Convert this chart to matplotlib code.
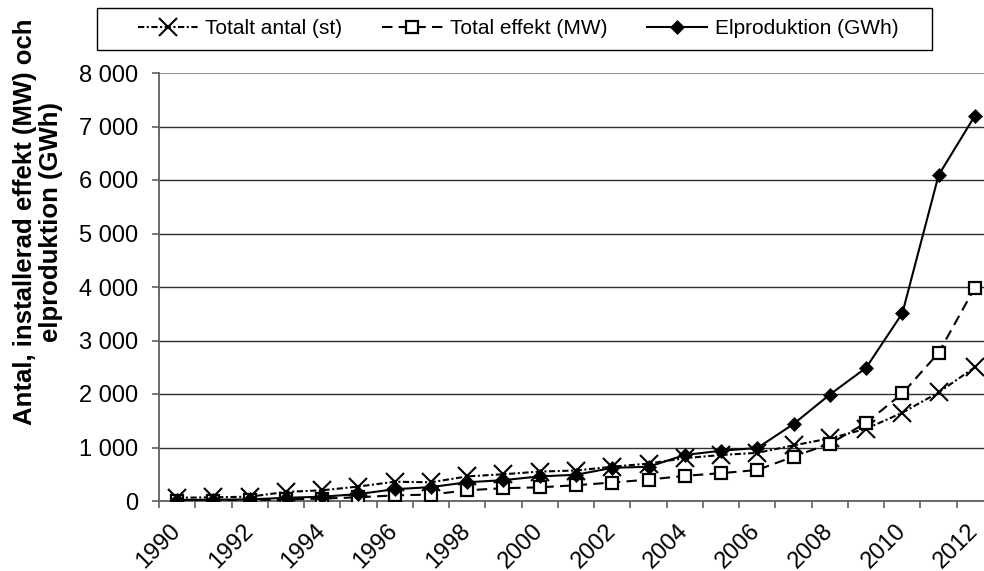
import matplotlib
matplotlib.use("Agg")
import matplotlib.pyplot as plt
from matplotlib.patches import Rectangle
import numpy as np
from matplotlib.ticker import FuncFormatter

plt.rcParams['font.family'] = ['Liberation Sans', 'DejaVu Sans']

years = list(range(1990, 2013))
antal = [60, 70, 80, 170, 200, 270, 360, 350, 460, 500, 550, 570, 640, 700,
         800, 860, 900, 1040, 1170, 1350, 1650, 2030, 2500]
effekt = [5, 8, 15, 30, 45, 70, 105, 120, 200, 240, 255, 295, 345, 400,
          470, 520, 580, 830, 1070, 1460, 2010, 2770, 3990]
elprod = [20, 25, 30, 60, 80, 130, 220, 260, 350, 390, 460, 490, 620, 640,
          860, 940, 990, 1440, 1990, 2490, 3510, 6090, 7200]

labels = ["Totalt antal (st)", "Total effekt (MW)", "Elproduktion (GWh)"]
ylabel = "Antal, installerad effekt (MW) och\nelproduktion (GWh)"

W, H = 984, 571
fig = plt.figure(figsize=(W / 100, H / 100), dpi=100)
left, right, top, bottom = 159, 993, 73, 501
ax = fig.add_axes([left / W, 1 - bottom / H, (right - left) / W, (bottom - top) / H])

x = np.arange(len(years))
l1, = ax.plot(x, antal, color='black', lw=1.5, dashes=(3, 1.2, 1, 1.2),
              marker='x', ms=13, mew=1.5, label=labels[0], zorder=3)
l2, = ax.plot(x, effekt, color='black', lw=1.5, dashes=(5, 3),
              marker='s', ms=8.5, mew=1.6, mfc='white', mec='black', label=labels[1], zorder=4)
l3, = ax.plot(x, elprod, color='black', lw=1.5, linestyle='-',
              marker='D', ms=7.2, mew=0.5, mfc='black', mec='black', label=labels[2], zorder=5)

ax.set_xlim(-0.5, len(years) - 0.5)
ax.set_ylim(0, 8000)

# x ticks: marks at category boundaries, labels every second year
ax.set_xticks(np.arange(-0.5, len(years), 1))
ax.set_xticklabels([])
ax.set_xticks(x[::2], minor=True)
ax.set_xticklabels([str(y) for y in years[::2]], minor=True, rotation=45,
                   ha='right', va='center', rotation_mode='anchor', fontsize=17)
ax.tick_params(axis='x', which='major', direction='out', length=5, width=1.2, color='#606060')
ax.tick_params(axis='x', which='minor', length=0, pad=19)

ax.set_yticks(np.arange(0, 8001, 1000))
ax.yaxis.set_major_formatter(FuncFormatter(lambda v, p: f"{v:,.0f}".replace(",", " ")))
ax.tick_params(axis='y', direction='out', length=5, width=1.2, color='#606060',
               labelsize=17, pad=10)

ax.grid(axis='y', color='#303030', lw=1.0)
ax.set_axisbelow(True)
gl = ax.get_ygridlines()
gl[-1].set_color('#909090')
gl[-1].set_linewidth(1.5)

for s in ['top', 'right']:
    ax.spines[s].set_visible(False)
for s in ['left', 'bottom']:
    ax.spines[s].set_color('#606060')
    ax.spines[s].set_linewidth(1.3)

ax.set_ylabel(ylabel, fontsize=18.5, fontweight='bold', linespacing=1.1)
ax.yaxis.label.set_va('center')
ax.yaxis.set_label_coords((38 - left) / (right - left), (bottom - 222) / (bottom - top))

# legend box frame
bx0, by0, bx1, by1 = 97, 8, 932, 50
fig.patches.append(Rectangle((bx0 / W, 1 - by1 / H), (bx1 - bx0) / W, (by1 - by0) / H,
                             transform=fig.transFigure, fill=False, edgecolor='black',
                             linewidth=1.0, zorder=10))
leg = fig.legend(handles=[l1, l2, l3], loc='center', ncol=3,
                 bbox_to_anchor=(518 / W, 1 - 29 / H), bbox_transform=fig.transFigure,
                 fontsize=15, frameon=False, handlelength=2.9,
                 handletextpad=0.35, columnspacing=1.9, borderpad=0.3)

fig.savefig("out.png", dpi=100)
